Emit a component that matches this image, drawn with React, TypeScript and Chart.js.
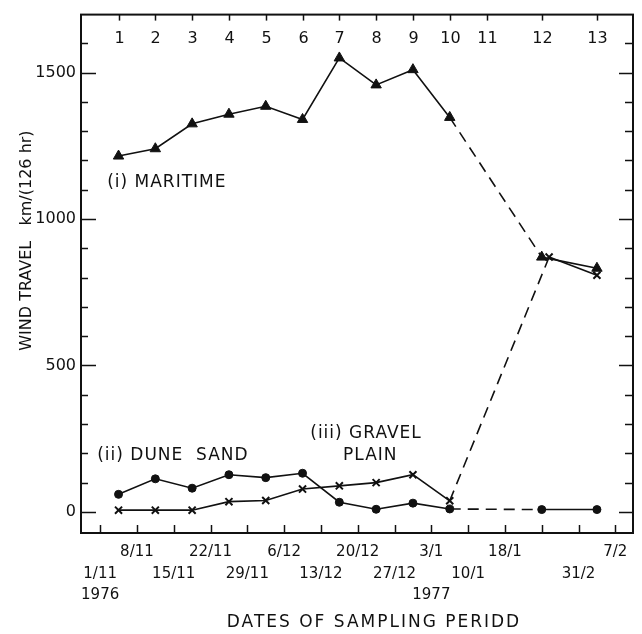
import React, { useEffect, useRef } from 'react';
import { Chart, registerables } from 'chart.js';

Chart.register(...registerables);

// ---- data ----
const periods = ['1', '2', '3', '4', '5', '6', '7', '8', '9', '10', '11', '12', '13'];
// sampling period position, in weeks after 1/11/1976
const periodWeek = [0.5, 1.5, 2.5, 3.5, 4.5, 5.5, 6.5, 7.5, 8.5, 9.5, 10.5, 12, 13.5];
const gravelWeek = [0.5, 1.5, 2.5, 3.5, 4.5, 5.5, 6.5, 7.5, 8.5, 9.5, 10.5, 12.2, 13.5];
const maritime = [1215, 1240, 1325, 1358, 1385, 1340, 1550, 1458, 1510, 1347, null, 870, 832];
const duneSand = [60, 113, 81, 127, 117, 132, 33, 9, 30, 10, null, 8, 8];
const gravelPlain = [6, 6, 6, 35, 39, 78, 89, 100, 127, 38, null, 870, 808];
// weekly date ticks (week 0 .. 14), upper and lower label rows, year row
const upperDates = ['', '8/11', '', '22/11', '', '6/12', '', '20/12', '', '3/1', '', '18/1', '', '', '7/2'];
const lowerDates = ['1/11', '', '15/11', '', '29/11', '', '13/12', '', '27/12', '', '10/1', '', '', '31/2', ''];
const yearLabels = ['1976', '', '', '', '', '', '', '', '', '1977', '', '', '', '', ''];
const yTickValues = [0, 500, 1000, 1500];
const yMinorValues = [0, 100, 200, 300, 400, 500, 600, 700, 800, 900, 1000, 1100, 1200, 1300, 1400, 1500, 1600];

const FONT = "'DejaVu Sans', sans-serif";
const INK = '#111';

const toPoints = (xs: number[], ys: (number | null)[]) =>
  ys
    .map((y, i) => (y == null ? null : { x: xs[i], y }))
    .filter((p) => p !== null) as { x: number; y: number }[];

const dashGap = (ctx: any) => (ctx.p0DataIndex === 9 ? [11, 7] : undefined);

const framePlugin = {
  id: 'frame',
  afterDraw(chart: any) {
    const { ctx, chartArea: a, scales } = chart;
    const xs = scales.x;
    const ys = scales.y;
    ctx.save();
    ctx.strokeStyle = INK;
    ctx.fillStyle = INK;
    // box
    ctx.lineWidth = 2;
    ctx.strokeRect(a.left, a.top, a.right - a.left, a.bottom - a.top);
    // y ticks left and right (inward)
    ctx.lineWidth = 1.5;
    yMinorValues.forEach((v) => {
      const py = Math.round(ys.getPixelForValue(v)) + 0.5;
      const major = yTickValues.includes(v);
      const lenL = major ? 15 : 7;
      const lenR = major ? 14 : 8;
      ctx.beginPath();
      ctx.moveTo(a.left, py);
      ctx.lineTo(a.left + lenL, py);
      ctx.moveTo(a.right, py);
      ctx.lineTo(a.right - lenR, py);
      ctx.stroke();
    });
    // bottom ticks (inward)
    xs.ticks.forEach((t: any) => {
      const px = Math.round(xs.getPixelForValue(t.value)) + 0.5;
      ctx.beginPath();
      ctx.moveTo(px, a.bottom);
      ctx.lineTo(px, a.bottom - 8);
      ctx.stroke();
    });
    // top ticks and sampling period numbers
    ctx.font = `16px ${FONT}`;
    ctx.textAlign = 'center';
    ctx.textBaseline = 'middle';
    periods.forEach((p, i) => {
      const px = Math.round(xs.getPixelForValue(periodWeek[i])) + 0.5;
      ctx.beginPath();
      ctx.moveTo(px, a.top);
      ctx.lineTo(px, a.top + 6);
      ctx.stroke();
      ctx.fillText(p, px, a.top + 24);
    });
    // series annotations
    ctx.font = `17px ${FONT}`;
    (ctx as any).letterSpacing = '1px';
    ctx.textAlign = 'left';
    const note = (t: string, wx: number, vy: number) =>
      ctx.fillText(t, xs.getPixelForValue(wx), ys.getPixelForValue(vy));
    note('(i) MARITIME', 0.19, 1125);
    note('(ii) DUNE  SAND', -0.08, 194);
    note('(iii) GRAVEL', 5.71, 269);
    note('PLAIN', 6.6, 194);
    // axis titles
    ctx.font = `16px ${FONT}`;
    (ctx as any).letterSpacing = '0px';
    ctx.textAlign = 'center';
    ctx.save();
    ctx.translate(a.left - 54, a.top + 226);
    ctx.rotate(-Math.PI / 2);
    ctx.fillText('WIND TRAVEL   km/(126 hr)', 0, 0);
    ctx.restore();
    ctx.font = `17px ${FONT}`;
    (ctx as any).letterSpacing = '2px';
    ctx.fillText('DATES OF SAMPLING PERIDD', (a.left + a.right) / 2 + 17, a.bottom + 90);
    (ctx as any).letterSpacing = '0px';
    ctx.restore();
  },
};

export default function App() {
  const ref = useRef<HTMLCanvasElement | null>(null);
  useEffect(() => {
    document.body.style.margin = '0';
    const canvas = ref.current!;
    const chart = new Chart(canvas, {
      type: 'line',
      data: {
        datasets: [
          {
            label: 'Maritime',
            data: toPoints(periodWeek, maritime),
            borderColor: INK,
            backgroundColor: INK,
            borderWidth: 1.6,
            pointStyle: 'triangle',
            pointRadius: 6,
            pointBorderWidth: 1,
            segment: { borderDash: dashGap },
          },
          {
            label: 'Dune sand',
            data: toPoints(periodWeek, duneSand),
            borderColor: INK,
            backgroundColor: INK,
            borderWidth: 1.6,
            pointStyle: 'circle',
            pointRadius: 4,
            pointBorderWidth: 1,
            segment: { borderDash: dashGap },
          },
          {
            label: 'Gravel plain',
            data: toPoints(gravelWeek, gravelPlain),
            borderColor: INK,
            backgroundColor: INK,
            borderWidth: 1.6,
            pointStyle: 'crossRot',
            pointRadius: 5,
            pointBorderWidth: 2,
            segment: { borderDash: dashGap },
          },
        ],
      },
      options: {
        responsive: false,
        animation: false,
        events: [],
        layout: { padding: { left: 0, right: 9, top: 14, bottom: 0 } },
        plugins: { legend: { display: false }, tooltip: { enabled: false } },
        scales: {
          x: {
            type: 'linear',
            min: -0.52,
            max: 14.48,
            grid: { display: false, drawTicks: false },
            border: { display: false },
            afterBuildTicks: (s: any) => {
              s.ticks = upperDates.map((_, i) => ({ value: i }));
            },
            afterFit: (s: any) => {
              s.height = 101;
            },
            ticks: {
              autoSkip: false,
              maxRotation: 0,
              minRotation: 0,
              padding: 8,
              color: INK,
              font: { family: FONT, size: 15, lineHeight: 1.45 },
              callback: (v: any) => {
                const i = Math.round(Number(v));
                const up = upperDates[i] ?? '';
                const lo = lowerDates[i] ?? '';
                const yr = yearLabels[i] ?? '';
                if (!up && !lo && !yr) return '';
                return [up, lo, yr];
              },
            },
          },
          y: {
            type: 'linear',
            min: -72,
            max: 1698,
            grid: { display: false, drawTicks: false },
            border: { display: false },
            afterBuildTicks: (s: any) => {
              s.ticks = yTickValues.map((v) => ({ value: v }));
            },
            afterFit: (s: any) => {
              s.width = 81;
            },
            ticks: {
              autoSkip: false,
              padding: 5,
              color: INK,
              font: { family: FONT, size: 16 },
              callback: (v: any) => String(v),
            },
          },
        },
      },
      plugins: [framePlugin],
    });
    return () => chart.destroy();
  }, []);
  return (
    <div style={{ width: 642, height: 634 }}>
      <canvas ref={ref} width={642} height={634} style={{ display: 'block' }} />
    </div>
  );
}
